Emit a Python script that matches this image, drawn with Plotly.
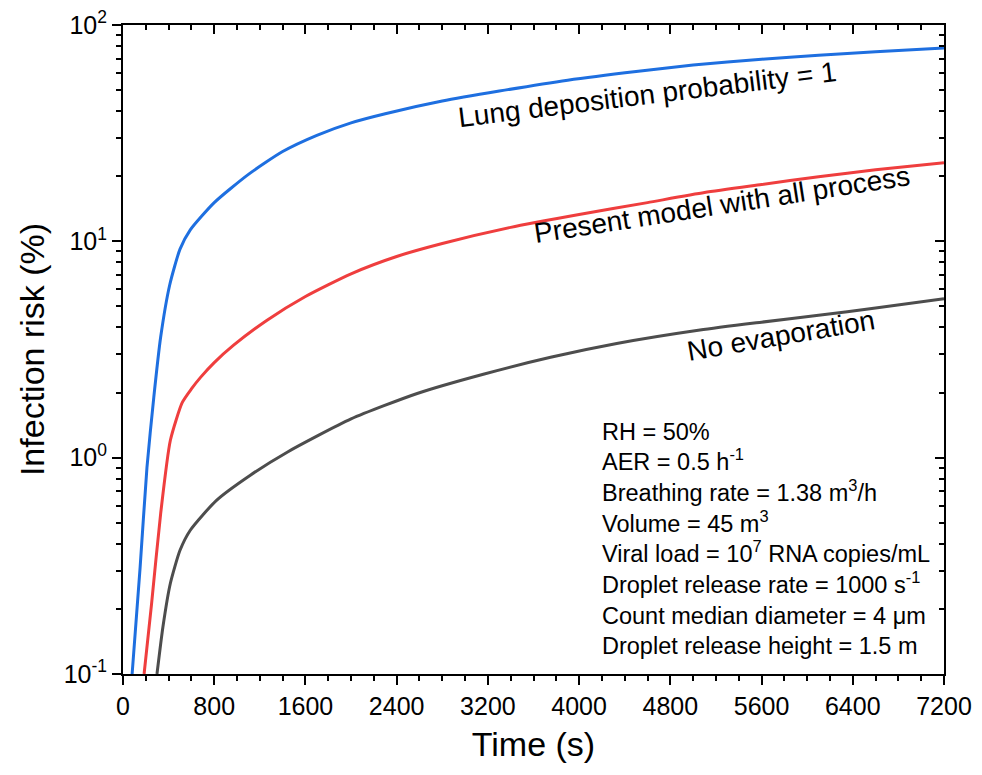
import plotly.graph_objects as go

# ---------------- data ----------------
t_lung = [80, 150, 210, 270, 330, 410, 500, 590, 800, 1100, 1400, 1700, 2000,
          2300, 2800, 3300, 3900, 4500, 5000, 5600, 6100, 6600, 7200]
risk_lung = [0.1, 0.31, 0.9, 1.9, 3.6, 6.3, 9.2, 11.3, 15.1, 20.4, 26.0, 30.9, 35.3,
             38.9, 44.5, 49.5, 55.6, 61.0, 65.3, 69.5, 72.4, 75.3, 78.2]

t_present = [185, 250, 330, 415, 520, 600, 680, 800, 970, 1260, 1600, 2000,
             2400, 2800, 3400, 4000, 4600, 5100, 5600, 6100, 6600, 7200]
risk_present = [0.1, 0.21, 0.55, 1.2, 1.8, 2.08, 2.35, 2.75, 3.31, 4.31, 5.56, 7.08,
                8.51, 9.77, 11.6, 13.3, 15.1, 16.8, 18.3, 19.9, 21.4, 23.1]

t_noevap = [298, 350, 415, 500, 590, 820, 1120, 1440, 2000, 2580, 3160, 3750,
            4330, 5060, 5600, 6100, 6600, 7200]
risk_noevap = [0.1, 0.165, 0.262, 0.373, 0.462, 0.635, 0.832, 1.06, 1.51, 1.98, 2.43,
               2.91, 3.37, 3.89, 4.23, 4.55, 4.92, 5.43]

series_names = ["Lung deposition probability = 1",
                "Present model with all process",
                "No evaporation"]
series_colors = ["#1E6FE0", "#EF3E3E", "#4D4D4D"]

x_ticks = [0, 800, 1600, 2400, 3200, 4000, 4800, 5600, 6400, 7200]
y_tickvals = [0.1, 1, 10, 100]
y_ticktext = ["10<sup>-1</sup>", "10<sup>0</sup>", "10<sup>1</sup>", "10<sup>2</sup>"]

info_lines = [
    "RH = 50%",
    "AER = 0.5 h<sup>-1</sup>",
    "Breathing rate = 1.38 m<sup>3</sup>/h",
    "Volume = 45 m<sup>3</sup>",
    "Viral load = 10<sup>7</sup> RNA copies/mL",
    "Droplet release rate = 1000 s<sup>-1</sup>",
    "Count median diameter = 4 \u03bcm",
    "Droplet release height = 1.5 m",
]

FONT = "Liberation Sans, Arial, Helvetica, sans-serif"

# minor tick positions on the log axis (2..9 x 10^k)
y_minor = [m * 10 ** k for k in (-1, 0, 1) for m in range(2, 10)]

fig = go.Figure()
for tx, ry, name, col in zip([t_lung, t_present, t_noevap],
                             [risk_lung, risk_present, risk_noevap],
                             series_names, series_colors):
    fig.add_trace(go.Scatter(x=tx, y=ry, mode="lines", name=name,
                             line=dict(color=col, width=3, shape="spline", smoothing=0.6),
                             showlegend=False))

# invisible trace to activate mirrored top/right axes
fig.add_trace(go.Scatter(x=[None], y=[None], xaxis="x2", yaxis="y2",
                         showlegend=False, hoverinfo="skip"))

axis_common = dict(showline=True, linecolor="black", linewidth=2, showgrid=False,
                   zeroline=False, tickcolor="black", tickwidth=2, automargin=False)

fig.update_layout(
    width=966, height=759,
    margin=dict(l=115, r=30, t=17, b=93),
    paper_bgcolor="white", plot_bgcolor="white",
    font=dict(family=FONT, color="black"),
    xaxis=dict(range=[0, 7200], tickvals=x_ticks, ticks="outside", ticklen=9,
               tickfont=dict(size=25), ticklabeloverflow="allow",
               title=dict(text="Time (s)", font=dict(size=34), standoff=13),
               minor=dict(dtick=200, tick0=0, ticks="outside", ticklen=5,
                          tickcolor="black", tickwidth=2),
               **axis_common),
    yaxis=dict(type="log", range=[-1, 2], tickvals=y_tickvals, ticktext=y_ticktext,
               ticks="outside", ticklen=9, tickfont=dict(size=25),
               ticklabeloverflow="allow",
               title=dict(text="Infection risk (%)", font=dict(size=34), standoff=9),
               minor=dict(tickvals=y_minor, ticks="outside", ticklen=5,
                          tickcolor="black", tickwidth=2),
               **axis_common),
    xaxis2=dict(overlaying="x", side="top", range=[0, 7200], tickvals=x_ticks,
                ticks="inside", ticklen=9, showticklabels=False,
                minor=dict(dtick=200, tick0=0, ticks="inside", ticklen=5,
                           tickcolor="black", tickwidth=2),
                **axis_common),
    yaxis2=dict(overlaying="y", side="right", type="log", range=[-1, 2],
                tickvals=y_tickvals, ticks="inside", ticklen=9, showticklabels=False,
                minor=dict(tickvals=y_minor, ticks="inside", ticklen=5,
                           tickcolor="black", tickwidth=2),
                **axis_common),
)

# curve labels
label_pos = [(0.639, 0.893, -7.0), (0.730, 0.724, -8.8), (0.802, 0.522, -9.7)]
for name, (xp, yp, ang) in zip(series_names, label_pos):
    fig.add_annotation(text=name, xref="paper", yref="paper", x=xp, y=yp,
                       xanchor="center", yanchor="middle", textangle=ang,
                       showarrow=False, font=dict(size=28, family=FONT, color="black"))

# info block
for i, line in enumerate(info_lines):
    fig.add_annotation(text=line, xref="paper", yref="paper",
                       x=0.5815, y=0.3500 - i * 0.0472,
                       xanchor="left", yanchor="bottom", showarrow=False,
                       font=dict(size=23.5, family=FONT, color="black"))

fig.write_html("out.html")
